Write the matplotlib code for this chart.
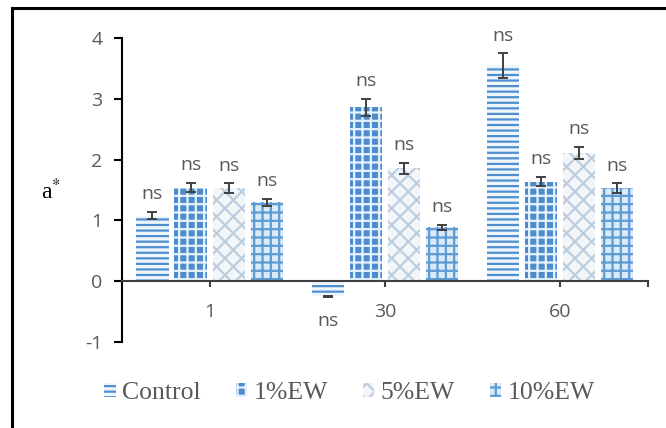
"""
a* 값 막대 그래프 (저장 기간별, EW 처리구)
"""

import numpy as np
import matplotlib.pyplot as plt
from matplotlib.patches import Rectangle

plt.rcParams['font.family'] = ['Open Sans', 'DejaVu Sans']
plt.rcParams['axes.unicode_minus'] = False
plt.rcParams['hatch.linewidth'] = 1.6

# 데이터
days = ['1', '30', '60']
groups = ['Control', '1%EW', '5%EW', '10%EW']
control = [1.08, -0.25, 3.55]
ew_1 = [1.54, 2.86, 1.64]
ew_5 = [1.53, 1.86, 2.11]
ew_10 = [1.30, 0.89, 1.53]
control_err = [0.06, 0.01, 0.20]
ew_1_err = [0.08, 0.14, 0.08]
ew_5_err = [0.08, 0.09, 0.10]
ew_10_err = [0.06, 0.04, 0.08]

# 스타일
styles = [
    {'facecolor': '#eef6fc', 'edgecolor': '#4f8fcf', 'hatch': '---'},
    {'facecolor': '#4d8ccc', 'edgecolor': '#e6f2fb', 'hatch': '++'},
    {'facecolor': '#f3f6f9', 'edgecolor': '#bccddd', 'hatch': 'xx'},
    {'facecolor': '#d9ebf8', 'edgecolor': '#5d9bd3', 'hatch': '++'},
]
TEXT_GRAY = '#595959'


def plot_chart():
    """막대 그래프 그리기"""

    fig = plt.figure(figsize=(6.66, 4.28), dpi=100)
    ax = fig.add_axes([0.183, 0.201, 0.790, 0.710])

    values = [control, ew_1, ew_5, ew_10]
    errors = [control_err, ew_1_err, ew_5_err, ew_10_err]
    x = np.arange(len(days))
    pitch = 0.217
    width = 0.183

    handles = []
    for i, (vals, errs, st) in enumerate(zip(values, errors, styles)):
        pos = x + (i - 1.5) * pitch
        bars = ax.bar(pos, vals, width, color=st['facecolor'],
                      edgecolor=st['edgecolor'], hatch=st['hatch'],
                      linewidth=0, zorder=2, label=groups[i])
        handles.append(bars)
        ax.errorbar(pos, vals, yerr=errs, fmt='none', ecolor='#404040',
                    elinewidth=1.4, capsize=3.5, capthick=1.4, zorder=3)

        # ns 표시
        for p, v, e in zip(pos, vals, errs):
            if v >= 0:
                ax.annotate('ns', (p, v + e), xytext=(0, 9),
                            textcoords='offset points', ha='center',
                            va='baseline', fontsize=14, color=TEXT_GRAY)
            else:
                ax.annotate('ns', (p, v - e), xytext=(0, -11),
                            textcoords='offset points', ha='center',
                            va='top', fontsize=14, color=TEXT_GRAY)

    # 축 설정
    ax.set_xlim(-0.5, 2.5)
    ax.set_ylim(-1, 4)
    ax.spines['top'].set_visible(False)
    ax.spines['right'].set_visible(False)
    ax.spines['bottom'].set_position(('data', 0))
    ax.spines['bottom'].set_color('#404040')
    ax.spines['bottom'].set_linewidth(1.5)
    ax.spines['left'].set_linewidth(1.5)
    ax.spines['left'].set_color('black')

    ax.set_xticks(x)
    ax.set_xticklabels([])
    ax.set_xticks([2.5], minor=True)
    ax.tick_params(axis='x', which='both', direction='out', length=4,
                   width=1.5, color='#404040')
    for xi, d in zip(x, days):
        ax.text(xi, -0.5, d, ha='center', va='center', fontsize=14,
                color=TEXT_GRAY)

    ax.set_yticks(range(-1, 5))
    ax.tick_params(axis='y', direction='out', length=6, width=1.5,
                   labelsize=14, labelcolor=TEXT_GRAY, pad=8)

    fig.text(0.077, 0.552, r'a$^{*}$', ha='center', va='center',
             fontsize=17, family='Liberation Serif', color='black',
             math_fontfamily='stix')

    # 범례
    fig.legend(handles=handles, labels=groups, loc='center',
               bbox_to_anchor=(0.525, 0.082), ncol=4, frameon=False,
               prop={'family': 'Liberation Serif', 'size': 18.5},
               handlelength=0.45, handleheight=0.45, handletextpad=0.25,
               columnspacing=1.35, labelcolor=TEXT_GRAY)

    # 외곽 테두리
    fig.patches.append(Rectangle((12 / 666, -0.1), 1.2, 1 - 8 / 428 + 0.1,
                                 transform=fig.transFigure, fill=False,
                                 edgecolor='black', linewidth=2.2))

    fig.savefig('out.png', dpi=100)


def main():
    plot_chart()


if __name__ == "__main__":
    main()
